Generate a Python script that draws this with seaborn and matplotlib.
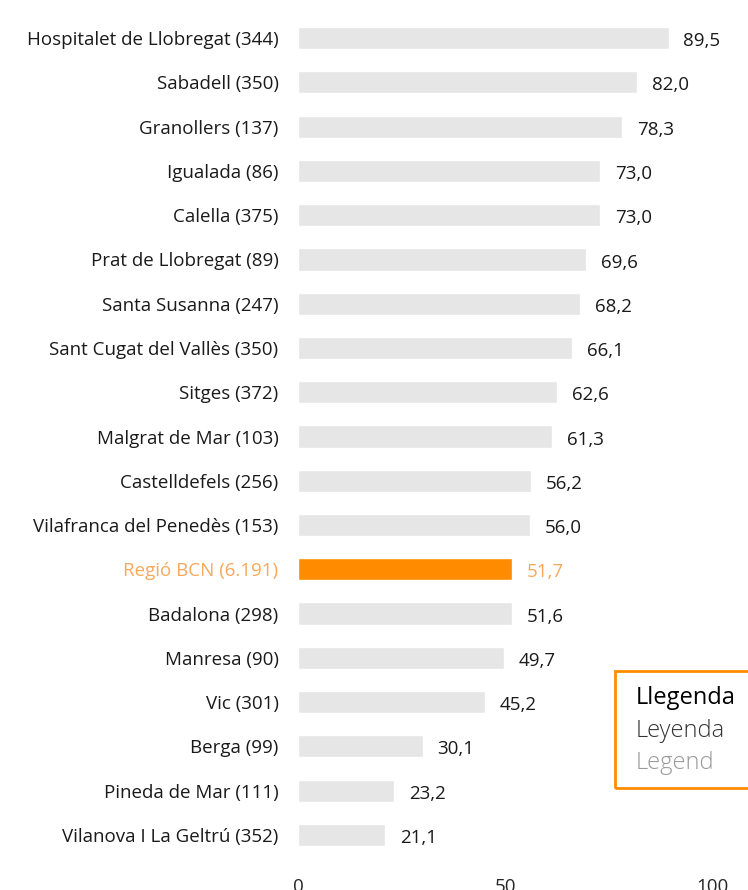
import matplotlib
matplotlib.use("Agg")
import matplotlib.pyplot as plt
import seaborn as sns
import pandas as pd
from matplotlib.patches import Rectangle

# Datos
municipis = [
    "Hospitalet de Llobregat (344)", "Sabadell (350)", "Granollers (137)",
    "Igualada (86)", "Calella (375)", "Prat de Llobregat (89)",
    "Santa Susanna (247)", "Sant Cugat del Vallès (350)", "Sitges (372)",
    "Malgrat de Mar (103)", "Castelldefels (256)", "Vilafranca del Penedès (153)",
    "Regió BCN (6.191)", "Badalona (298)", "Manresa (90)", "Vic (301)",
    "Berga (99)", "Pineda de Mar (111)", "Vilanova I La Geltrú (352)",
]
valors = [89.5, 82.0, 78.3, 73.0, 73.0, 69.6, 68.2, 66.1, 62.6, 61.3,
          56.2, 56.0, 51.7, 51.6, 49.7, 45.2, 30.1, 23.2, 21.1]
destacat = "Regió BCN (6.191)"
x_ticks = [0, 50, 100]

GRIS = "#E6E6E6"
TARONJA = "#FF8C00"
TARONJA_TEXT = "#F9A85A"

sns.set_style("white")
plt.rcParams['font.family'] = ['Open Sans', 'DejaVu Sans']

df = pd.DataFrame({"municipi": municipis, "valor": valors})
paleta = {m: (TARONJA if m == destacat else GRIS) for m in municipis}

fig = plt.figure(figsize=(7.48, 8.90), dpi=100)
ax = fig.add_axes([298 / 748, 1 - 857 / 890, (712 - 298) / 748, (857 - 16) / 890])

sns.barplot(data=df, x="valor", y="municipi", hue="municipi", palette=paleta,
            legend=False, width=0.5, ax=ax, saturation=1)

ax.set_xlim(0, 100)
ax.set_ylim(len(municipis) - 0.5, -0.5)
ax.set_xticks(x_ticks)
ax.set_xticklabels([str(t) for t in x_ticks], fontsize=13.5)
ax.tick_params(axis="x", length=0, pad=15)
ax.tick_params(axis="y", length=0, pad=14, labelsize=13.5)
ax.set_xlabel("")
ax.set_ylabel("")
sns.despine(ax=ax, left=True, bottom=True)

for lbl in ax.get_yticklabels():
    if lbl.get_text() == destacat:
        lbl.set_color(TARONJA_TEXT)
    else:
        lbl.set_color("#1a1a1a")

for i, v in enumerate(valors):
    color = TARONJA_TEXT if municipis[i] == destacat else "#1a1a1a"
    ax.text(v + 3.6, i + 0.07, f"{v:.1f}".replace(".", ","), va="center",
            ha="left", fontsize=13.5, color=color, clip_on=False)

# Llegenda (caixa)
fig.patches.append(Rectangle((615 / 748, 1 - 788 / 890), 200 / 748, 117 / 890,
                             transform=fig.transFigure, fill=False,
                             edgecolor=TARONJA, linewidth=2))
fig.text(636 / 748, 1 - 698 / 890, "Llegenda", fontsize=17, color="black", va="center")
fig.text(636 / 748, 1 - 731 / 890, "Leyenda", fontsize=17, color="#333333",
         va="center", fontweight="light")
fig.text(636 / 748, 1 - 763 / 890, "Legend", fontsize=17, color="#999999",
         va="center", fontweight="light")

fig.savefig("out.png", dpi=100)
